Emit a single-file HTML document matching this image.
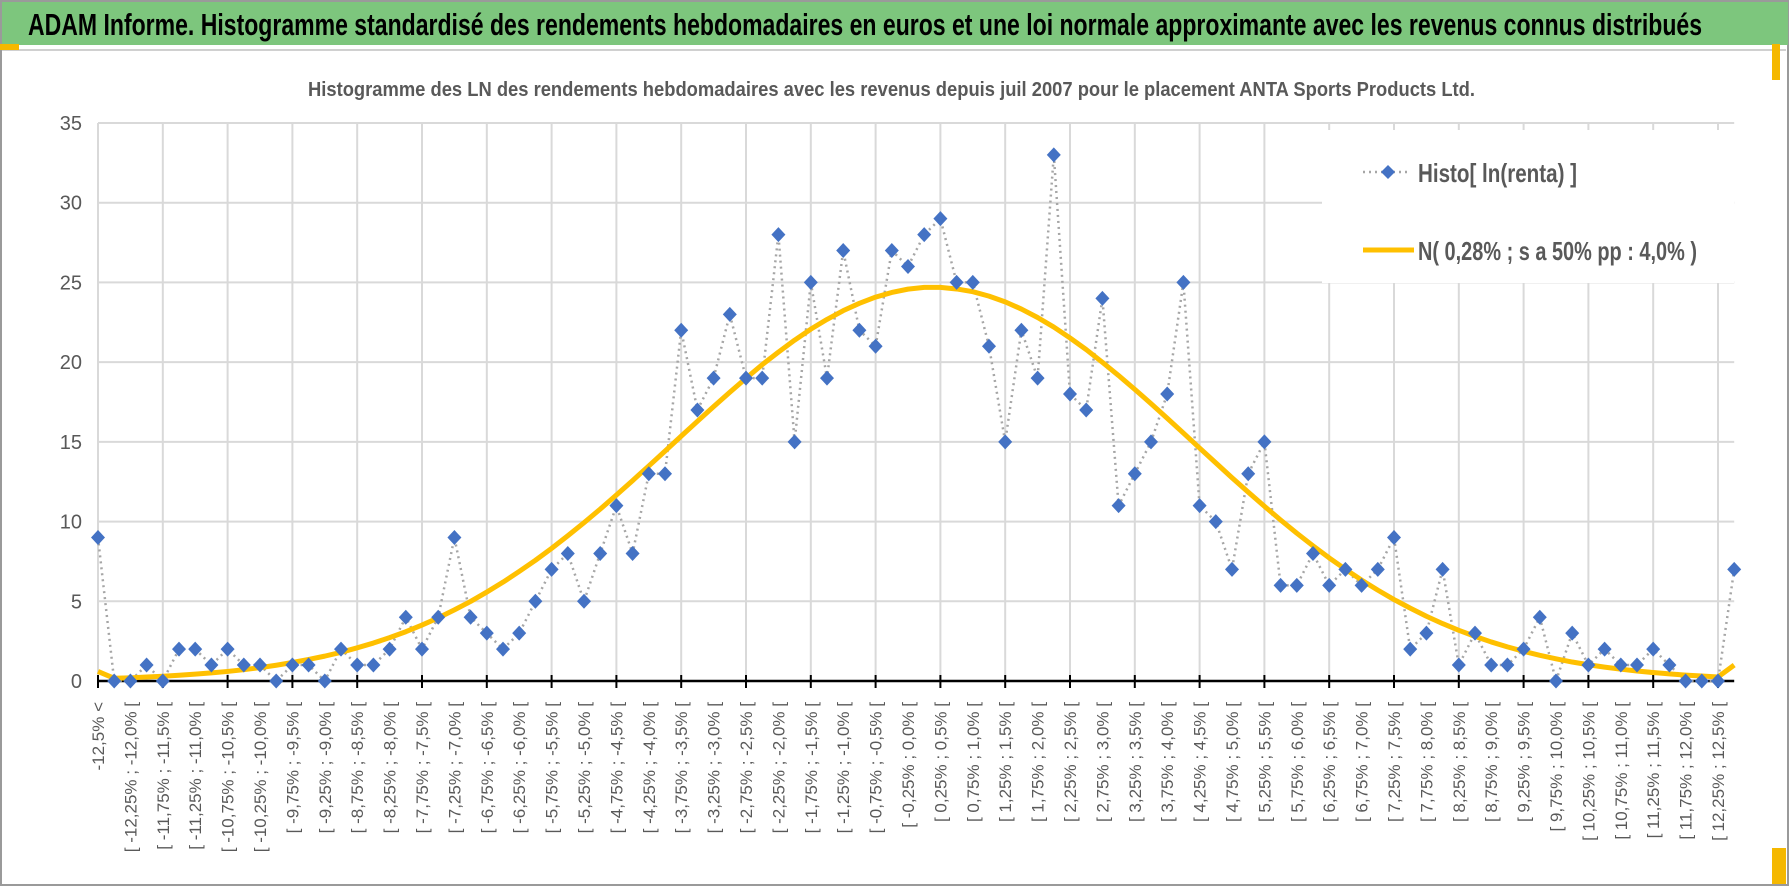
<!DOCTYPE html>
<html><head><meta charset="utf-8"><style>
html,body{margin:0;padding:0;background:#fff;}
svg{display:block;font-family:"Liberation Sans",sans-serif;}
</style></head><body>
<svg id="chart" width="1790" height="887" viewBox="0 0 1790 887" xmlns="http://www.w3.org/2000/svg">
<rect x="1" y="1" width="1787" height="884" fill="#fff" stroke="#9a9a9a" stroke-width="2"/>
<rect x="2" y="2" width="1786" height="43" fill="#7dc67d"/>
<line x1="2" y1="50" x2="1786" y2="50" stroke="#d0d0d0" stroke-width="2"/>
<rect x="0" y="44" width="19" height="6" fill="#f5b800"/>
<rect x="1772" y="44" width="8" height="36" fill="#f5b800"/>
<rect x="1772" y="848" width="14" height="36" fill="#f5b800"/>
<text x="28" y="35" font-size="31" font-weight="bold" fill="#000" textLength="1674" lengthAdjust="spacingAndGlyphs">ADAM Informe. Histogramme standardisé des rendements hebdomadaires en euros et une loi normale approximante avec les revenus connus distribués</text>
<text x="308" y="96" font-size="20" font-weight="bold" fill="#595959" textLength="1167" lengthAdjust="spacingAndGlyphs">Histogramme  des LN des rendements hebdomadaires avec les revenus depuis juil 2007 pour le placement ANTA Sports Products Ltd.</text>
<g id="grid"></g>
<g id="yticks"></g>
<g id="xlabels"></g>
<g id="series"></g>
<g id="legend">
<rect x="1322" y="130" width="412" height="153" fill="#fff"/>
<g>
<line x1="1363" y1="172" x2="1411" y2="172" stroke="#a6a6a6" stroke-width="2.5" stroke-dasharray="2,4"/>
<path d="M1388 165 L1395 172 L1388 179 L1381 172 Z" fill="#4472c4"/>
<text x="1418" y="182" font-size="26" font-weight="bold" fill="#595959" textLength="159" lengthAdjust="spacingAndGlyphs">Histo[ ln(renta) ]</text>
</g>
<g>
<line x1="1363" y1="250" x2="1414" y2="250" stroke="#ffc000" stroke-width="5"/>
<text x="1418" y="260" font-size="26" font-weight="bold" fill="#595959" textLength="279" lengthAdjust="spacingAndGlyphs">N( 0,28% ; s a 50% pp : 4,0% )</text>
</g>
</g>
</svg>
<script>
const counts = [9,0,0,1,0,2,2,1,2,1,1,0,1,1,0,2,1,1,2,4,2,4,9,4,3,2,3,5,7,8,5,8,11,8,13,13,22,17,19,23,19,19,28,15,25,19,27,22,21,27,26,28,29,25,25,21,15,22,19,33,18,17,24,11,13,15,18,25,11,10,7,13,15,6,6,8,6,7,6,7,9,2,3,7,1,3,1,1,2,4,0,3,1,2,1,1,2,1,0,0,0,7];
const normalFit = [0.6,0.17,0.2,0.25,0.3,0.36,0.43,0.51,0.6,0.71,0.84,0.99,1.16,1.35,1.56,1.8,2.08,2.38,2.72,3.09,3.51,3.96,4.46,4.99,5.58,6.2,6.87,7.57,8.32,9.11,9.93,10.78,11.67,12.57,13.49,14.42,15.36,16.29,17.21,18.11,18.99,19.84,20.63,21.38,22.07,22.68,23.23,23.69,24.08,24.37,24.58,24.69,24.69,24.59,24.42,24.14,23.78,23.33,22.8,22.2,21.52,20.79,19.99,19.16,18.29,17.4,16.48,15.55,14.61,13.68,12.75,11.85,10.96,10.1,9.27,8.48,7.72,7.01,6.33,5.7,5.11,4.57,4.06,3.6,3.18,2.8,2.45,2.14,1.86,1.61,1.39,1.19,1.02,0.87,0.74,0.63,0.53,0.45,0.37,0.31,0.25,1.0];
const yTicks = [0,5,10,15,20,25,30,35];

const NS='http://www.w3.org/2000/svg';
const X0=98, DX=16.2, Y0=681, YTOP=123, YMAX=35;
function xs(i){return X0+i*DX;}
function ys(v){return Y0-(v/YMAX)*(Y0-YTOP);}
function mk(tag,attrs,parent){const e=document.createElementNS(NS,tag);for(const k in attrs)e.setAttribute(k,attrs[k]);parent.appendChild(e);return e;}
function fmt(v,d){return v.toFixed(d).replace('.',',');}
function catLabel(i){
  if(i===0) return '-12,5% <';
  if(i===counts.length-1) return '12,5% >';
  const a=-12.5+0.25*(i-1), b=a+0.25;
  return '[ '+fmt(a,2)+'% ; '+fmt(b,1)+'% [';
}
const grid=document.getElementById('grid');
const last=counts.length-1;
yTicks.forEach(t=>{
  const y=ys(t);
  if(t>0){const l=mk('line',{x1:X0,x2:xs(last),y1:y,y2:y,stroke:'#d9d9d9','stroke-width':2},grid);
  
  }
  const tx=mk('text',{x:82,y:y+7,'text-anchor':'end','font-size':20,fill:'#595959'},document.getElementById('yticks'));
  tx.textContent=t;
  
  
});
for(let i=0;i<=last;i+=4){
  const l=mk('line',{x1:xs(i),x2:xs(i),y1:YTOP,y2:Y0,stroke:'#d9d9d9','stroke-width':2},grid);
  
  
  const t=mk('line',{x1:xs(i),x2:xs(i),y1:Y0-6,y2:Y0+7,stroke:'#000','stroke-width':2},grid);
  
  
}
const ax=mk('line',{x1:X0,x2:xs(last),y1:Y0,y2:Y0,stroke:'#000','stroke-width':2.5},grid);


const xl=document.getElementById('xlabels');
for(let i=0;i<last;i+=2){
  const x=xs(i)+6, y=702;
  const t=mk('text',{x:x,y:y,transform:'rotate(-90 '+x+' '+y+')','text-anchor':'end','font-size':17,fill:'#595959'},xl);
  t.textContent=catLabel(i);
  
  
}
const sg=document.getElementById('series');
const hp=mk('polyline',{points:counts.map((v,i)=>xs(i)+','+ys(v)).join(' '),fill:'none',stroke:'#a6a6a6','stroke-width':2.5,'stroke-dasharray':'2,4'},sg);


const np=mk('polyline',{points:normalFit.map((v,i)=>xs(i)+','+ys(v)).join(' '),fill:'none',stroke:'#ffc000','stroke-width':5,'stroke-linejoin':'round'},sg);


counts.forEach((v,i)=>{
  const x=xs(i),y=ys(v);
  const d=mk('path',{d:'M'+x+' '+(y-7.5)+' L'+(x+7)+' '+y+' L'+x+' '+(y+7.5)+' L'+(x-7)+' '+y+' Z',fill:'#4472c4'},sg);
  
  
});
</script>
</body></html>
